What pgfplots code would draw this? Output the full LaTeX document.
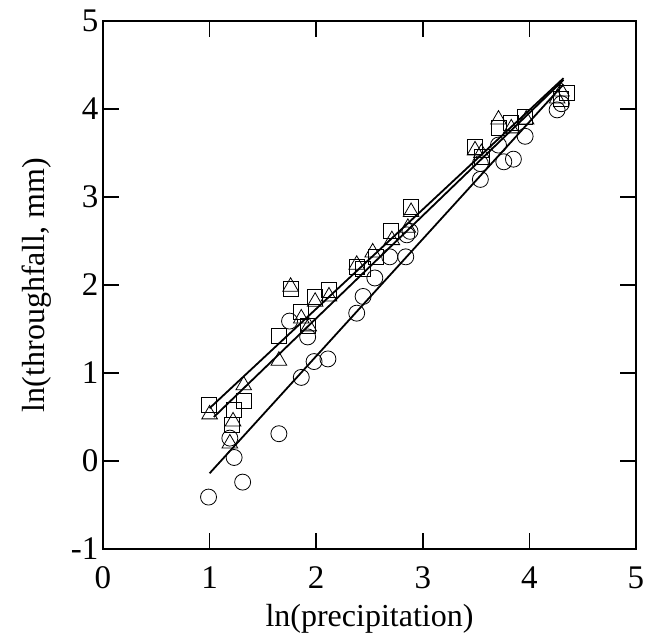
\documentclass[border=0pt]{standalone}
\usepackage{fontspec}
\setmainfont{Liberation Serif}
\usepackage{pgfplots}
\pgfplotsset{compat=1.18}
\begin{document}
\begin{tikzpicture}
\path[use as bounding box] (-103pt,-86pt) rectangle (543pt,549pt);
\begin{axis}[
  at={(0pt,0pt)}, anchor=south west,
  scale only axis, width=533pt, height=528pt,
  xmin=0, xmax=5, ymin=-1, ymax=5,
  xtick={0,1,2,3,4,5}, ytick={-1,0,1,2,3,4,5},
  xticklabels={0,1,2,3,4,5},
  yticklabels={-1,0,1,2,3,4,5},
  tick align=inside, major tick length=16pt,
  tick style={line width=1.6pt, black},
  axis line style={line width=1.8pt},
  tick label style={font=\fontsize{33}{38}\selectfont},
  label style={font=\fontsize{32}{38}\selectfont},
  xticklabel style={yshift=-14pt},
  yticklabel style={xshift=-1pt},
  xlabel={ln(precipitation)},
  ylabel={ln(throughfall, mm)},
  xlabel style={yshift=-9pt},
  ylabel style={yshift=13pt},
  clip=false,
]
% circles
\addplot[only marks, mark=o, mark size=8pt, mark options={line width=0.8pt}] coordinates {
(0.99,-0.41) (1.31,-0.24) (1.23,0.04) (1.19,0.26) (1.65,0.31) (1.86,0.95)
(1.98,1.13) (2.11,1.16) (1.75,1.59) (1.92,1.41) (2.38,1.68) (2.44,1.87)
(2.55,2.08) (2.69,2.32) (2.84,2.32) (2.88,2.61) (2.85,2.57) (3.54,3.20)
(3.54,3.38) (3.76,3.40) (3.85,3.43) (3.71,3.59) (3.96,3.69) (4.26,3.99) (4.30,4.06)
};
% squares
\addplot[only marks, mark=square, mark size=7.5pt, mark options={line width=0.8pt}] coordinates {
(0.99,0.64) (1.21,0.41) (1.23,0.58) (1.32,0.68) (1.65,1.42) (1.76,1.96)
(1.86,1.70) (1.92,1.53) (1.99,1.87) (2.12,1.95) (2.38,2.21) (2.44,2.18)
(2.56,2.32) (2.70,2.61) (2.89,2.89) (3.49,3.57) (3.55,3.46) (3.71,3.78)
(3.83,3.84) (3.96,3.91) (4.35,4.18) (4.30,4.12)
};
% triangles
\addplot[only marks, mark=triangle, mark size=9pt, mark options={line width=0.8pt}] coordinates {
(1.00,0.53) (1.19,0.20) (1.22,0.45) (1.32,0.86) (1.65,1.14) (1.76,1.98)
(1.86,1.62) (1.93,1.53) (1.99,1.81) (2.12,1.87) (2.38,2.23) (2.53,2.37)
(2.71,2.51) (2.86,2.65) (2.89,2.83) (3.49,3.53) (3.55,3.50) (3.71,3.88)
(3.83,3.78) (3.97,3.88) (4.26,4.12) (4.30,4.20)
};
% regression lines
\addplot[line width=1.8pt, black] coordinates {(1.0,-0.14) (4.32,4.28)};
\addplot[line width=1.8pt, black] coordinates {(1.0,0.60) (4.32,4.35)};
\addplot[line width=1.8pt, black] coordinates {(1.04,0.50) (4.32,4.33)};
\end{axis}
\end{tikzpicture}
\end{document}
